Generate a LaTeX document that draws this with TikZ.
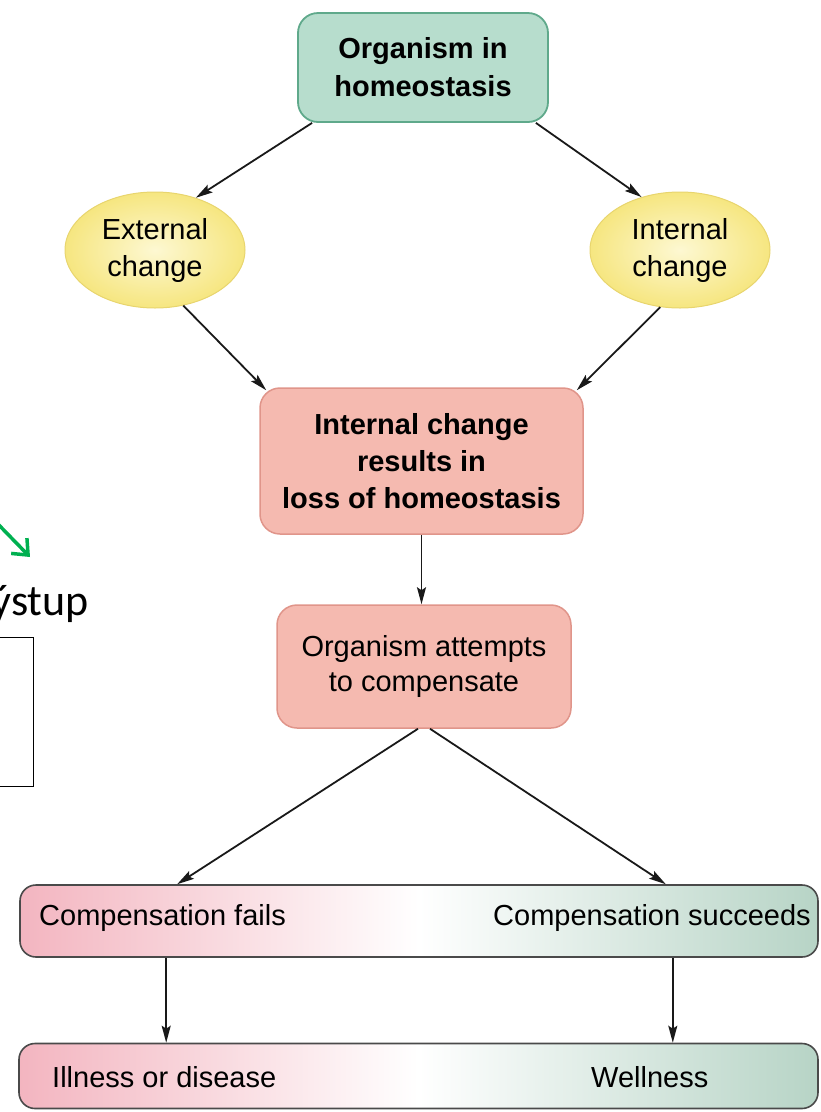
\documentclass[tikz,border=0pt]{standalone}
\usepackage{fontspec}
\setmainfont{Liberation Sans}
\newfontfamily\carlito{Carlito}
\usetikzlibrary{shapes.geometric,arrows.meta,calc}
\definecolor{tealfill}{HTML}{B7DDCD}
\definecolor{tealdraw}{HTML}{5FA98B}
\definecolor{yelin}{HTML}{FDF8D2}
\definecolor{yelout}{HTML}{F6E680}
\definecolor{yeldraw}{HTML}{E8D56E}
\definecolor{pinkfill}{HTML}{F5BAB0}
\definecolor{pinkdraw}{HTML}{E0958A}
\definecolor{barpink}{HTML}{F3B5C0}
\definecolor{bargreen}{HTML}{B7D4C6}
\definecolor{bardraw}{HTML}{4A4A4A}
\definecolor{offgreen}{HTML}{00B050}
\tikzset{
  txt/.style={font=\fontsize{29}{37}\selectfont, align=center, inner sep=0pt},
  teal box/.style={txt, font=\fontsize{29}{38}\selectfont\bfseries, draw=tealdraw, fill=tealfill, line width=1.8pt, rounded corners=20pt},
  yel ell/.style={txt, ellipse, draw=yeldraw, line width=1pt, inner color=yelin, outer color=yelout},
  pink box/.style={txt, draw=pinkdraw, fill=pinkfill, line width=1.5pt, rounded corners=20pt},
  bar box/.style={draw=bardraw, line width=1.6pt, rounded corners=16pt, left color=barpink, right color=bargreen, middle color=white},
  lbl/.style={font=\fontsize{29}{35}\selectfont, inner sep=0pt},
  arr/.style={line width=1.8pt, draw=black!90, -{Stealth[length=17pt,width=9pt,inset=3pt]}},
}
\begin{document}
\begin{tikzpicture}[x=1pt,y=-1pt]
\useasboundingbox (0,0) rectangle (820,1112);
% nodes
\node[teal box, minimum width=250pt, minimum height=109pt] (top) at (423,67.5) {Organism in\\homeostasis};
\node[yel ell, minimum width=180pt, minimum height=116pt] (ext) at (155,250) {External\\change};
\node[yel ell, minimum width=180pt, minimum height=116pt] (int) at (680,250) {Internal\\change};
\node[pink box, font=\fontsize{29}{37}\selectfont\bfseries, minimum width=323pt, minimum height=146pt] (mid) at (421.5,461) {Internal change\\results in\\loss of homeostasis};
\node[pink box, font=\fontsize{29}{35}\selectfont, minimum width=294pt, minimum height=123pt] (comp) at (424,666.5) {Organism attempts\\to compensate};
\node[bar box, minimum width=798pt, minimum height=72pt] (bar1) at (419,921) {};
\node[bar box, minimum width=799pt, minimum height=65pt] (bar2) at (418.5,1076) {};
\node[lbl, anchor=west] (fails) at (39,918) {Compensation fails};
\node[lbl, anchor=east] (succ) at (811,918) {Compensation succeeds};
\node[lbl, anchor=west] (ill) at (52,1077) {Illness or disease};
\node[lbl, anchor=west] (well) at (591,1077) {Wellness};
% connectors
\draw[arr] ([xshift=15pt]top.south west) -- (ext.52);
\draw[arr] ([xshift=-13pt]top.south east) -- (int.126);
\draw[arr] (ext.-63) -- ([xshift=7pt,yshift=-3pt]mid.north west);
\draw[arr] (int.-109) -- ([xshift=-7pt,yshift=-3pt]mid.north east);
\draw[arr] (mid.south) -- (mid.south |- comp.north);
\draw[arr] ([xshift=-6pt]comp.south) -- ([xshift=158pt]bar1.north west);
\draw[arr] ([xshift=6pt]comp.south) -- ([xshift=-153pt]bar1.north east);
\draw[arr] ([xshift=147pt]bar1.south west) -- ([xshift=148pt]bar2.north west);
\draw[arr] ([xshift=-146pt]bar1.south east) -- ([xshift=-146pt]bar2.north east);
% partial overlay at left
\coordinate (g1) at (-6,520);
\coordinate (g2) at (30,557);
\draw[offgreen, line width=3.5pt, line cap=round, -{Straight Barb[length=13pt,width=22pt,line width=3.5pt]}] (g1) -- (g2);
\node[anchor=base east, inner sep=0pt, font=\carlito\fontsize{44}{50}\selectfont] (vys) at (89,615) {Výstup};
\node[draw=black, line width=1.3pt, anchor=north east, minimum width=60pt, minimum height=149pt, inner sep=0pt] (frame) at (34,637) {};
\end{tikzpicture}
\end{document}
